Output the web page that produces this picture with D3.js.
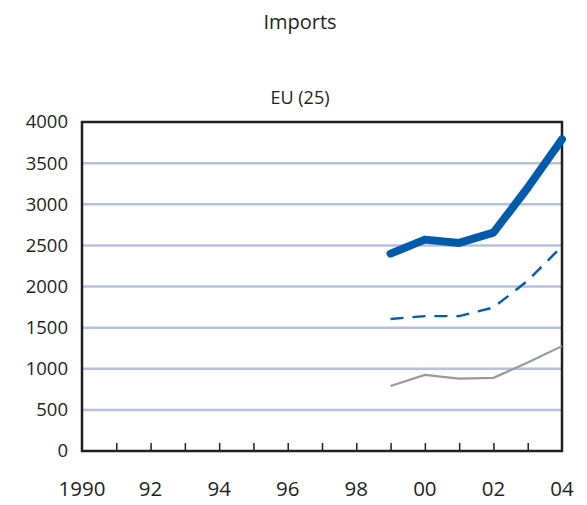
<!DOCTYPE html>
<html>
<head>
<meta charset="utf-8">
<script src="https://cdn.jsdelivr.net/npm/d3@7"></script>
<style>
  body { margin: 0; background: #fff; }
  text { font-family: "Open Sans", "Noto Sans", sans-serif; fill: #231f20; }
</style>
</head>
<body>
<svg id="chart" width="587" height="505"></svg>
<script>
// values (millions)
const years = [1999, 2000, 2001, 2002, 2003, 2004];
const total = [2400, 2570, 2530, 2655, 3200, 3790];
const middle = [1605, 1640, 1640, 1745, 2070, 2490];
const lower = [790, 925, 880, 890, 1075, 1275];
const yTicks = [0, 500, 1000, 1500, 2000, 2500, 3000, 3500, 4000];
const xLabelYears = [1990, 1992, 1994, 1996, 1998, 2000, 2002, 2004];

const plotLeft = 82, plotRight = 562, plotTop = 122, plotBottom = 451;

const svg = d3.select("#chart");

const x = d3.scaleLinear().domain([1990, 2004]).range([plotLeft, plotRight]);
const y = d3.scaleLinear().domain([0, 4000]).range([plotBottom, plotTop]);

svg.append("text")
  .attr("x", 300).attr("y", 22)
  .attr("dy", "0.35em")
  .attr("text-anchor", "middle")
  .attr("font-size", 20)
  .text("Imports");

svg.append("text")
  .attr("x", 300).attr("y", 98)
  .attr("dy", "0.35em")
  .attr("text-anchor", "middle")
  .attr("font-size", 18)
  .text("EU (25)");

// gridlines
svg.append("g")
  .selectAll("line")
  .data(yTicks.filter(d => d > 0 && d < 4000))
  .enter().append("line")
  .attr("x1", plotLeft).attr("x2", plotRight)
  .attr("y1", d => y(d)).attr("y2", d => y(d))
  .attr("stroke", "#b7c0de")
  .attr("stroke-width", 2.5);

// y axis labels
const yAxis = d3.axisLeft(y).tickValues(yTicks).tickSize(0).tickPadding(14).tickFormat(d3.format("d"));
const gy = svg.append("g").attr("transform", "translate(" + plotLeft + ",0)").call(yAxis);
gy.select(".domain").remove();
gy.selectAll("text").attr("font-size", 18.5).attr("font-family", null).style("fill", "#231f20");

// x axis: inward ticks every year, labels every two years
const xAxis = d3.axisTop(x)
  .tickValues(d3.range(1991, 2004))
  .tickSize(8)
  .tickFormat("");
const gx = svg.append("g").attr("transform", "translate(0," + plotBottom + ")").call(xAxis);
gx.select(".domain").remove();
gx.selectAll("line").attr("stroke", "#231f20").attr("stroke-width", 1.5);

svg.append("g")
  .selectAll("text")
  .data(xLabelYears)
  .enter().append("text")
  .attr("x", d => x(d))
  .attr("y", 489)
  .attr("dy", "0.35em")
  .attr("text-anchor", "middle")
  .attr("font-size", 20.5)
  .text(d => d === 1990 ? "1990" : String(d % 100).padStart(2, "0"));

// frame
svg.append("rect")
  .attr("x", plotLeft).attr("y", plotTop)
  .attr("width", plotRight - plotLeft).attr("height", plotBottom - plotTop)
  .attr("fill", "none")
  .attr("stroke", "#231f20")
  .attr("stroke-width", 2.5);

const line = (vals) => d3.line()
  .x((d, i) => x(years[i]))
  .y(d => y(d))(vals);

svg.append("path")
  .attr("d", line(lower))
  .attr("fill", "none")
  .attr("stroke", "#999a9c")
  .attr("stroke-width", 2.2);

svg.append("path")
  .attr("d", line(middle))
  .attr("fill", "none")
  .attr("stroke", "#005bab")
  .attr("stroke-width", 2.4)
  .attr("stroke-dasharray", "13,9");

svg.append("path")
  .attr("d", line(total))
  .attr("fill", "none")
  .attr("stroke", "#005bab")
  .attr("stroke-width", 8)
  .attr("stroke-linecap", "round")
  .attr("stroke-linejoin", "round");
</script>
</body>
</html>
